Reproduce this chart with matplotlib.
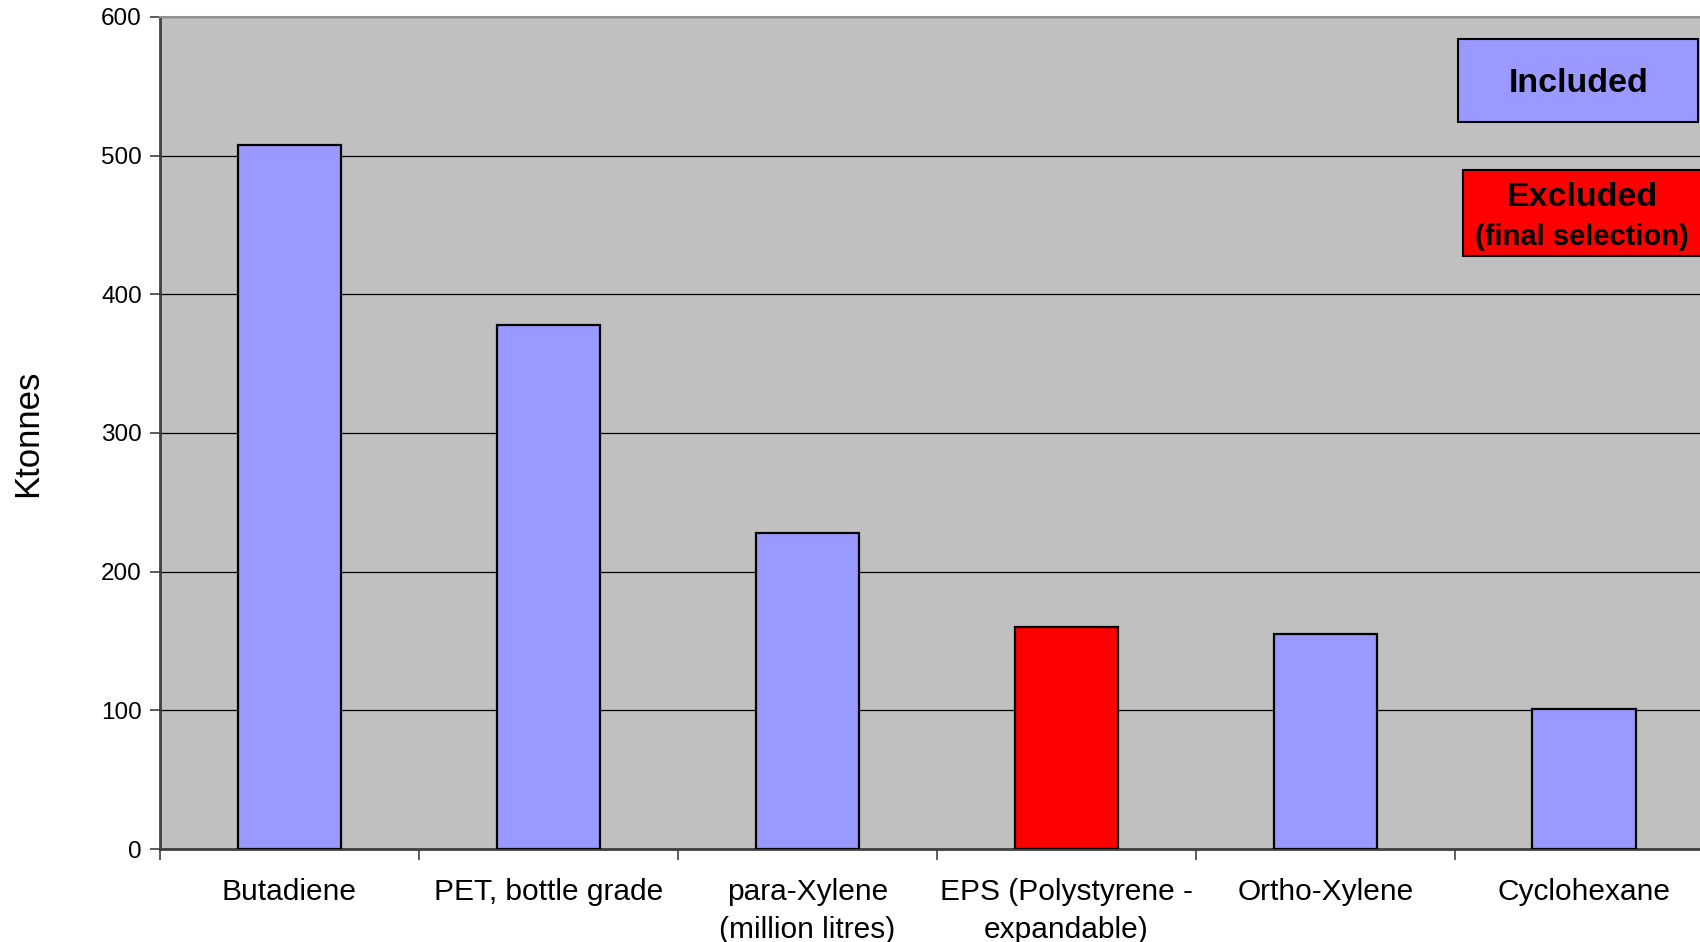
import matplotlib.pyplot as plt
from matplotlib.patches import Rectangle

plt.rcParams['font.family'] = ['Liberation Sans', 'DejaVu Sans']

products = ['Butadiene', 'PET, bottle grade', 'para-Xylene\n(million litres)',
            'EPS (Polystyrene -\nexpandable)', 'Ortho-Xylene', 'Cyclohexane']
ktonnes = [508, 378, 228, 160, 155, 101]
excluded = [False, False, False, True, False, False]

blue = '#9999FF'
red = '#FF0000'

fig = plt.figure(figsize=(17, 9.42), dpi=100)
ax = fig.add_axes([0.0941, 0.0987, 0.914, 0.8833])
ax.set_facecolor('#C0C0C0')

x = list(range(len(products)))
cols = [red if e else blue for e in excluded]
ax.bar(x, ktonnes, width=0.4, color=cols, edgecolor='black', linewidth=1.6, zorder=3)

ax.set_xlim(-0.5, len(products) - 0.5)
ax.set_ylim(0, 600)
ax.set_yticks(range(0, 601, 100))
ax.yaxis.grid(True, color='black', linewidth=0.9, zorder=1)
ax.set_axisbelow(True)

# category labels centred, tick marks on the boundaries
ax.set_xticks(x)
ax.set_xticklabels(products, fontsize=21.5, linespacing=1.45)
ax.tick_params(axis='x', which='major', length=0, pad=21)
ax.set_xticks([i - 0.5 for i in range(len(products) + 1)], minor=True)
ax.tick_params(axis='x', which='minor', length=8, width=1.2, color='#404040', direction='out')
ax.tick_params(axis='y', length=7, width=1.2, color='#404040', labelsize=17.5, pad=6)

for s in ['left', 'bottom']:
    ax.spines[s].set_color('#404040')
    ax.spines[s].set_linewidth(2)
ax.spines['top'].set_color('#909090')
ax.spines['top'].set_linewidth(1.5)
ax.spines['right'].set_visible(False)

fig.text(0.016, 0.54, 'Ktonnes', rotation=90, ha='center', va='center', fontsize=25)

# legend boxes
fig.patches.append(Rectangle((0.8576, 0.8705), 0.1412, 0.0881, transform=fig.transFigure,
                             facecolor=blue, edgecolor='black', linewidth=1.5, zorder=5))
fig.patches.append(Rectangle((0.8606, 0.7282), 0.15, 0.0913, transform=fig.transFigure,
                             facecolor=red, edgecolor='black', linewidth=1.5, zorder=5))
fig.text(0.9285, 1 - 83 / 942, 'Included', ha='center', va='center', fontsize=24.5, fontweight='bold', zorder=6)
fig.text(0.9306, 1 - 197 / 942, 'Excluded', ha='center', va='center', fontsize=24.5, fontweight='bold', zorder=6)
fig.text(0.9306, 1 - 237 / 942, '(final selection)', ha='center', va='center', fontsize=21, fontweight='bold', zorder=6)

fig.savefig('out.png', dpi=100)
